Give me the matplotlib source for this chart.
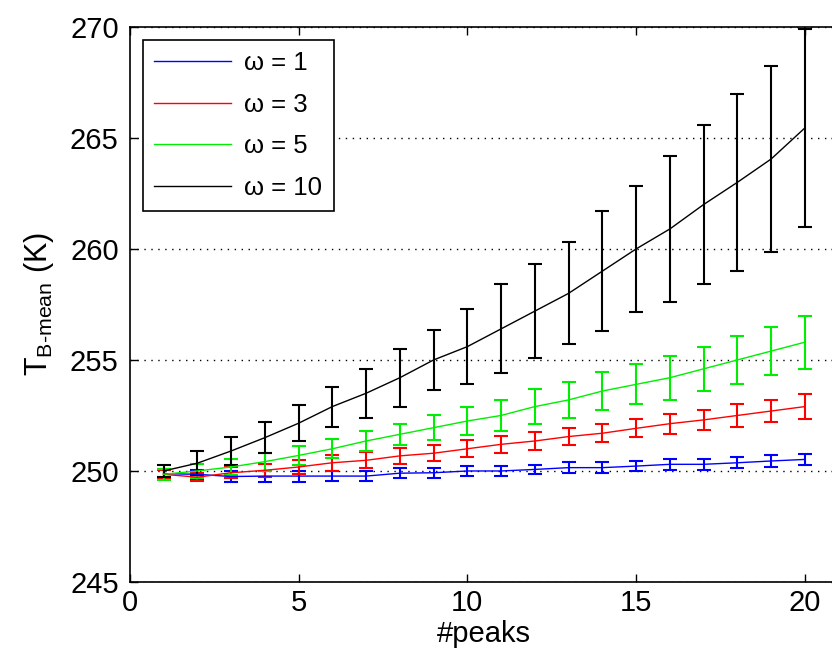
import matplotlib.pyplot as plt
import numpy as np

plt.rcParams['font.family'] = ['Liberation Sans', 'DejaVu Sans']
plt.rcParams['mathtext.fontset'] = 'custom'
plt.rcParams['mathtext.rm'] = 'Liberation Sans'

peaks = np.arange(1, 21)

# mean T_B for each omega
w1 = [249.88, 249.85, 249.75, 249.77, 249.77, 249.77, 249.77, 249.9, 249.92, 250.0,
      250.0, 250.07, 250.15, 250.15, 250.22, 250.3, 250.3, 250.37, 250.45, 250.52]
w3 = [249.85, 249.72, 249.92, 250.03, 250.18, 250.37, 250.48, 250.68, 250.8, 251.0,
      251.2, 251.35, 251.55, 251.7, 251.92, 252.13, 252.3, 252.5, 252.7, 252.9]
w5 = [249.85, 250.0, 250.18, 250.42, 250.7, 251.0, 251.35, 251.65, 251.95, 252.25,
      252.5, 252.9, 253.2, 253.6, 253.9, 254.2, 254.6, 255.0, 255.4, 255.8]
w10 = [250.0, 250.35, 250.9, 251.5, 252.15, 252.9, 253.5, 254.2, 255.0, 255.6,
       256.4, 257.2, 258.0, 259.0, 260.0, 260.9, 262.0, 263.0, 264.05, 265.45]

# error bar half widths
e1 = [0.2, 0.2, 0.26, 0.25, 0.25, 0.24, 0.23, 0.22, 0.22, 0.22,
      0.22, 0.22, 0.24, 0.24, 0.24, 0.25, 0.25, 0.25, 0.26, 0.26]
e3 = [0.2, 0.19, 0.25, 0.3, 0.3, 0.36, 0.36, 0.37, 0.37, 0.38,
      0.38, 0.39, 0.4, 0.4, 0.41, 0.45, 0.45, 0.5, 0.5, 0.55]
e5 = [0.26, 0.3, 0.35, 0.4, 0.41, 0.43, 0.45, 0.47, 0.55, 0.65,
      0.7, 0.8, 0.8, 0.85, 0.9, 1.0, 1.0, 1.1, 1.1, 1.2]
e10 = [0.26, 0.55, 0.65, 0.71, 0.8, 0.9, 1.1, 1.3, 1.35, 1.7,
       2.0, 2.1, 2.3, 2.7, 2.85, 3.3, 3.6, 4.0, 4.2, 4.45]

labels = ['ω = 1', 'ω = 3', 'ω = 5', 'ω = 10']
colors = ['blue', 'red', '#00ee00', 'black']

fig = plt.figure(figsize=(8.32, 6.64), dpi=100)
ax = fig.add_axes([0.156, 0.1235, 0.852, 0.836])

handles = []
for m, e, c in zip([w1, w3, w5, w10], [e1, e3, e5, e10], colors):
    eb = ax.errorbar(peaks, m, yerr=e, color=c, lw=1.0, elinewidth=1.5,
                     capsize=5, capthick=1.5)
    handles.append(eb.lines[0])

ax.set_xlim(0, 21)
ax.set_ylim(245, 270)
ax.set_xticks([0, 5, 10, 15, 20])
ax.set_yticks([245, 250, 255, 260, 265, 270])
ax.yaxis.grid(True, linestyle=(0, (1, 4)), color='black', lw=1.0)
ax.set_axisbelow(True)
ax.tick_params(direction='in', top=True, right=True, labelsize=21, length=6, width=1)
ax.tick_params(axis='y', pad=8)
ax.tick_params(axis='x', pad=5)
for s in ax.spines.values():
    s.set_linewidth(1.2)

ax.set_xlabel('#peaks', fontsize=21, labelpad=2)
ax.set_ylabel(r'T$_{\mathregular{B\text{-}mean}}$ (K)', fontsize=22, labelpad=10)

leg = ax.legend(handles, labels, loc='upper left', fontsize=18.5, handlelength=3.0,
                handletextpad=0.5, fancybox=False, framealpha=1, edgecolor='black',
                borderaxespad=0.5, labelspacing=0.68, borderpad=0.45)
leg.get_frame().set_linewidth(1.2)

fig.savefig('out.png', dpi=100)
